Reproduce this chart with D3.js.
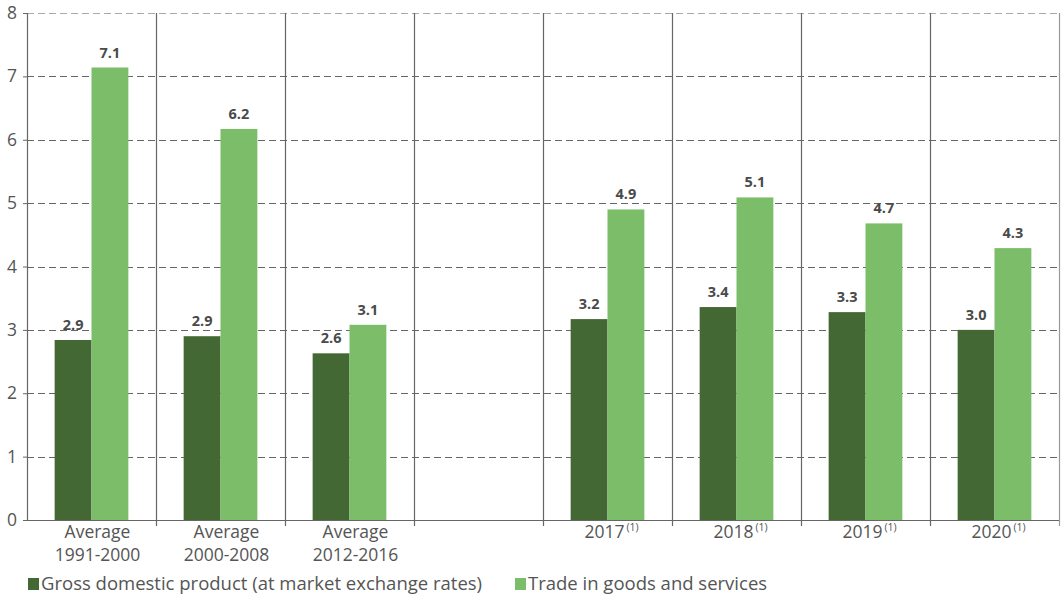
<!DOCTYPE html>
<html><head><meta charset="utf-8">
<script src="https://cdn.jsdelivr.net/npm/d3@7"></script>
<style>body{margin:0;background:#fff;}svg{display:block;font-family:"Open Sans",sans-serif;}</style>
</head><body><svg id="c" width="1061" height="597"></svg>
<script>
const categories = ["avg1","avg2","avg3","gap","2017","2018","2019","2020"];
const catLine1 = ["Average","Average","Average","","2017","2018","2019","2020"];
const catLine2 = ["1991-2000","2000-2008","2012-2016","","","","",""];
const catNote = ["","","","","(1)","(1)","(1)","(1)"];
const gdpValues = [2.84, 2.90, 2.63, null, 3.17, 3.36, 3.28, 3.00];
const gdpLabels = ["2.9","2.9","2.6","","3.2","3.4","3.3","3.0"];
const tradeValues = [7.14, 6.17, 3.08, null, 4.90, 5.09, 4.68, 4.29];
const tradeLabels = ["7.1","6.2","3.1","","4.9","5.1","4.7","4.3"];
const seriesNames = ["Gross domestic product (at market exchange rates)","Trade in goods and services"];
const yTicks = [0,1,2,3,4,5,6,7,8];

const colors = ["#436833","#7bbd68"];
const svg = d3.select("#c");
const L = 27, R = 1059, T = 13, B = 520;
const x = d3.scaleBand().domain(categories).range([L, R]).paddingInner(0).paddingOuter(0);
const y = d3.scaleLinear().domain([0, 8]).range([B, T]);
const inner = d3.scaleBand().domain([0,1]).range([0, x.bandwidth()]).paddingOuter(0.75).paddingInner(0);

// horizontal gridlines
svg.append("g").selectAll("line").data(yTicks.filter(d => d > 0)).join("line")
  .attr("x1", L).attr("x2", R).attr("y1", d => Math.round(y(d)) + 0.5).attr("y2", d => Math.round(y(d)) + 0.5)
  .attr("stroke", d => d === 8 ? "#aaa" : "#666").attr("stroke-width", 1).attr("stroke-dasharray", "7,4");

// vertical category separators
svg.append("g").selectAll("line").data(categories.slice(1)).join("line")
  .attr("x1", d => Math.round(x(d)) + 0.5).attr("x2", d => Math.round(x(d)) + 0.5)
  .attr("y1", T).attr("y2", B + 6).attr("stroke", "#666").attr("stroke-width", 1.2);
svg.append("line").attr("x1", R + 0.5).attr("x2", R + 0.5).attr("y1", T).attr("y2", B + 6)
  .attr("stroke", "#999").attr("stroke-width", 1.2);

// bars
const series = [gdpValues, tradeValues];
const labels = [gdpLabels, tradeLabels];
series.forEach((vals, si) => {
  const g = svg.append("g");
  categories.forEach((c, i) => {
    if (vals[i] == null) return;
    const bx = x(c) + inner(si);
    g.append("rect").attr("x", bx).attr("y", y(vals[i]))
      .attr("width", inner.bandwidth()).attr("height", y(0) - y(vals[i]))
      .attr("fill", colors[si]);
    g.append("text").attr("x", bx + inner.bandwidth() / 2).attr("y", y(vals[i]) - 10)
      .attr("text-anchor", "middle").attr("font-size", 14.5).attr("font-weight", 700)
      .attr("fill", "#4a4a4a").text(labels[si][i]);
  });
});

// y axis
const yAxis = svg.append("g").attr("transform", `translate(${L},0)`)
  .call(d3.axisLeft(y).tickValues(yTicks).tickSize(4).tickFormat(d3.format("d")));
yAxis.select(".domain").attr("stroke", "#666").attr("stroke-width", 1.2);
yAxis.selectAll(".tick line").attr("stroke", "#666");
yAxis.selectAll(".tick text").attr("font-size", 17.5).attr("fill", "#555").attr("x", -10)
  .attr("font-family", "Open Sans, sans-serif");

// x axis line
svg.append("line").attr("x1", L).attr("x2", R).attr("y1", B + 0.5).attr("y2", B + 0.5)
  .attr("stroke", "#666").attr("stroke-width", 1.2);

// category labels
const cl = svg.append("g");
categories.forEach((c, i) => {
  const cx = x(c) + x.bandwidth() / 2;
  if (catLine2[i]) {
    cl.append("text").attr("x", cx + 6).attr("y", 538).attr("text-anchor", "middle")
      .attr("font-size", 17.5).attr("fill", "#555").text(catLine1[i]);
    cl.append("text").attr("x", cx + 6).attr("y", 561).attr("text-anchor", "middle")
      .attr("font-size", 17.5).attr("fill", "#555").text(catLine2[i]);
  } else if (catLine1[i]) {
    const t = cl.append("text").attr("x", cx + 4).attr("y", 538).attr("text-anchor", "middle")
      .attr("font-size", 17.5).attr("fill", "#555");
    t.append("tspan").text(catLine1[i]);
    t.append("tspan").attr("font-size", 10.5).attr("dx", 2).attr("dy", -7).text(catNote[i]);
  }
});

// legend
const legX = [28, 515];
seriesNames.forEach((n, i) => {
  svg.append("rect").attr("x", legX[i]).attr("y", 578).attr("width", 11).attr("height", 12).attr("fill", colors[i]);
  svg.append("text").attr("x", legX[i] + 13).attr("y", 590).attr("font-size", 18.5).attr("fill", "#555").text(n);
});
</script></body></html>
